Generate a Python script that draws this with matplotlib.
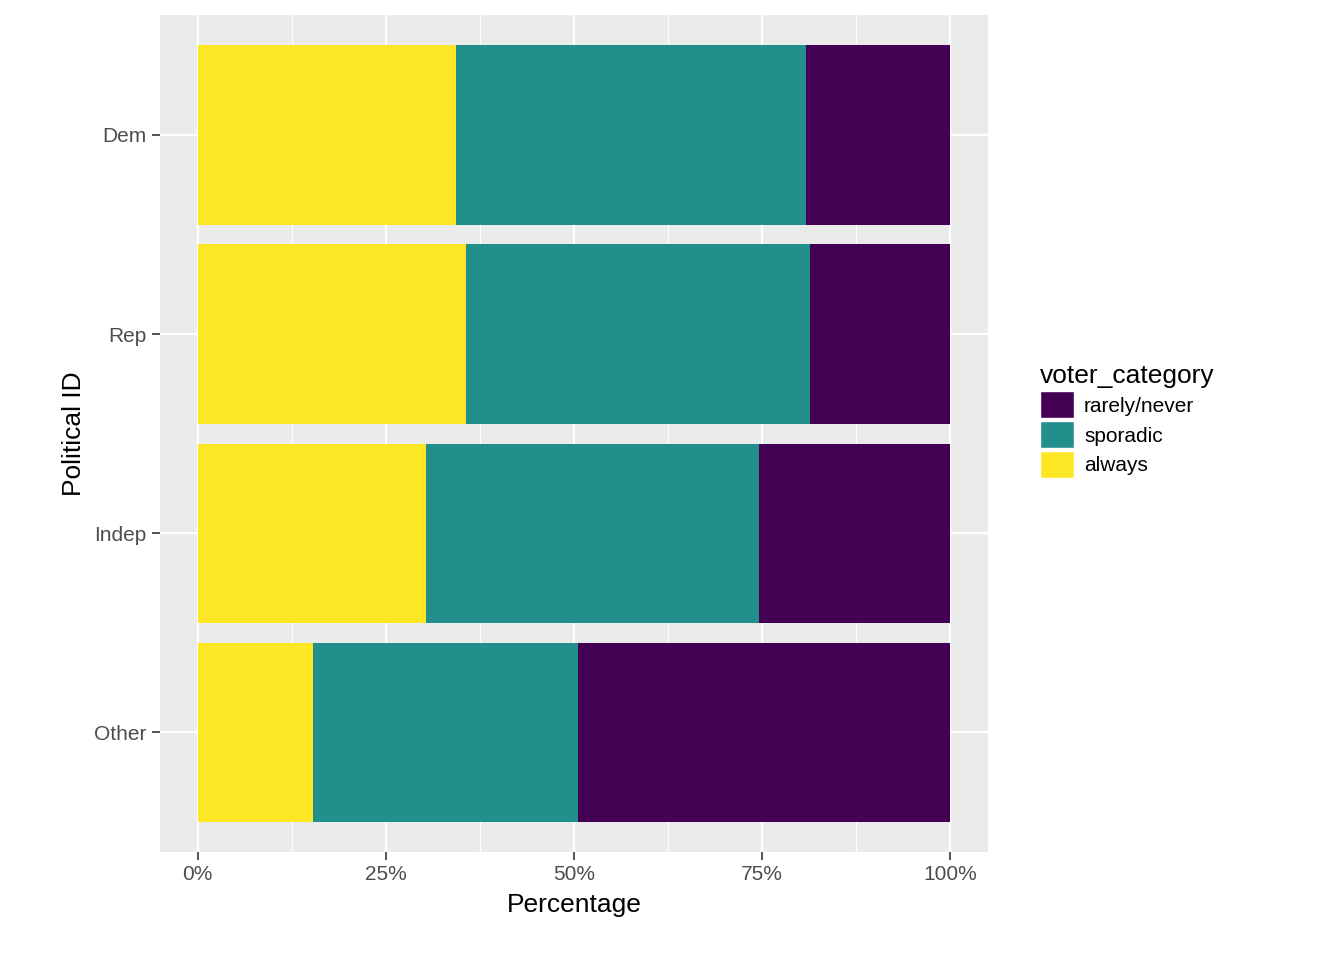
import matplotlib.pyplot as plt
import numpy as np
from matplotlib.patches import Patch

plt.rcParams['font.family'] = ['Liberation Sans', 'DejaVu Sans']

# Data (proportions)
partidos = ['Dem', 'Rep', 'Indep', 'Other']
always = [0.344, 0.356, 0.303, 0.153]
sporadic = [0.465, 0.458, 0.443, 0.352]
rarely = [1 - a - s for a, s in zip(always, sporadic)]
categorias = ['rarely/never', 'sporadic', 'always']
colores = {'rarely/never': '#440154', 'sporadic': '#21908C', 'always': '#FDE725'}

fig = plt.figure(figsize=(13.44, 9.6), dpi=100)
ax = fig.add_axes([0.119, 0.1125, 0.616, 0.8715])
ax.set_facecolor('#EBEBEB')

y = np.arange(len(partidos))[::-1] + 1  # Dem at top
ax.barh(y, always, height=0.9, color=colores['always'])
ax.barh(y, sporadic, left=always, height=0.9, color=colores['sporadic'])
ax.barh(y, rarely, left=np.array(always) + np.array(sporadic), height=0.9,
        color=colores['rarely/never'])

ax.set_xlim(-0.05, 1.05)
ax.set_ylim(0.4, 4.6)
ax.set_xticks([0, 0.25, 0.5, 0.75, 1])
ax.set_xticklabels(['0%', '25%', '50%', '75%', '100%'])
ax.set_xticks([0.125, 0.375, 0.625, 0.875], minor=True)
ax.set_yticks(y)
ax.set_yticklabels(partidos)
ax.grid(True, which='major', color='white', linewidth=1.6)
ax.grid(True, which='minor', axis='x', color='white', linewidth=0.8)
ax.set_axisbelow(True)
for s in ax.spines.values():
    s.set_visible(False)
ax.tick_params(which='major', length=6, width=1.2, color='#333333',
               labelsize=15, labelcolor='#4D4D4D')
ax.tick_params(which='minor', length=0)

ax.set_xlabel('Percentage', fontsize=19, labelpad=6)
ax.set_ylabel('Political ID', fontsize=19, labelpad=6)

handles = [Patch(facecolor=colores[c], edgecolor='white', label=c) for c in categorias]
fig.legend(handles=handles, title='voter_category', loc='upper left',
           bbox_to_anchor=(0.76, 0.64), frameon=False, fontsize=15,
           title_fontsize=19, handlelength=1.6, handleheight=1.6,
           handletextpad=0.5, labelspacing=0.15, alignment='left')

plt.savefig('out.png', dpi=100)
plt.close()
